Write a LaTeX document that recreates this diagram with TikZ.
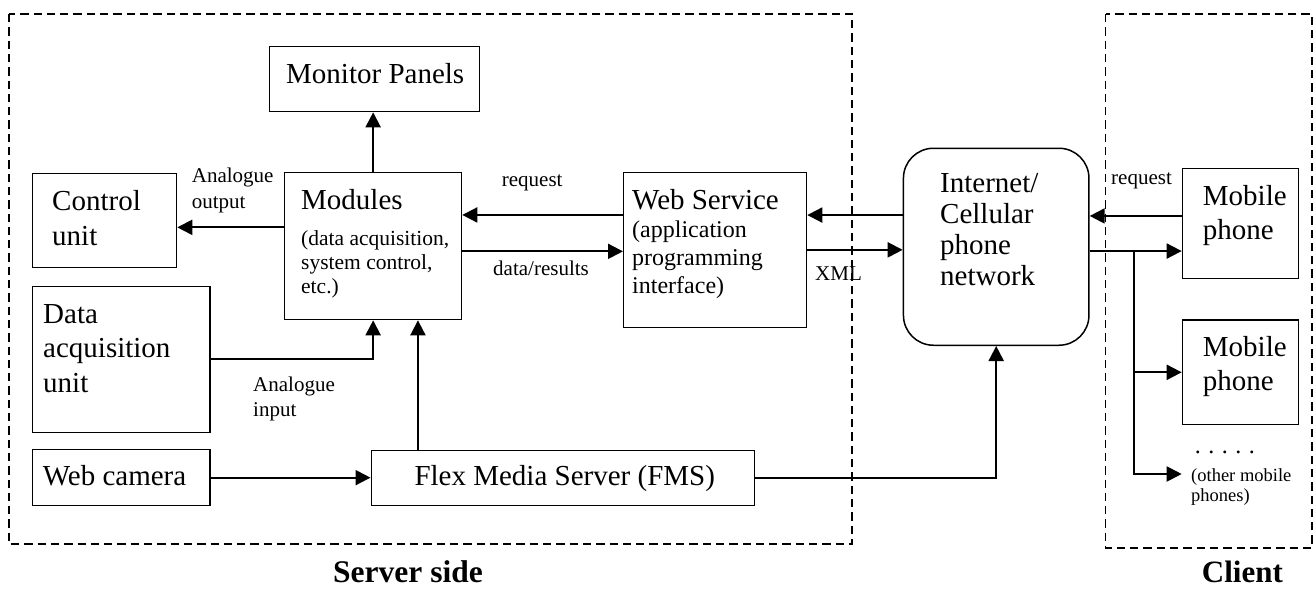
\documentclass[tikz,border=0pt]{standalone}
\usepackage{fontspec}
\setmainfont{Liberation Serif}
\usetikzlibrary{arrows.meta}
\newcommand\fsz[2]{\fontsize{#1}{#2}\selectfont}
\begin{document}
\begin{tikzpicture}[x=1pt,y=-1pt,
  box/.style={draw, line width=1.3pt, anchor=north west, inner sep=0pt},
  txt/.style={anchor=north west, inner sep=0pt, align=left},
  btxt/.style={anchor=base west, inner sep=0pt},
  big/.style={font=\fsz{29}{34}},
  small/.style={font=\fsz{21}{25}},
  arr/.style={line width=2pt, -{Triangle[length=15pt,width=15pt]}},
  region/.style={draw, line width=1.5pt, dash pattern=on 8.3pt off 5pt}
]
\useasboundingbox (0,0) rectangle (1315,589);

% dashed regions
\draw[region] (9,14) rectangle (852,544);
\draw[region] (1105.5,14) rectangle (1312,548);

% boxes
\node[box, minimum width=210pt, minimum height=65.3pt] (mon) at (269,45.7) {};
\node[box, minimum width=144pt, minimum height=94pt] (ctrl) at (32,173) {};
\node[box, minimum width=177pt, minimum height=147pt] (mod) at (284,172) {};
\node[box, minimum width=183pt, minimum height=155pt] (ws) at (623,171.7) {};
\node[box, rounded corners=30pt, line width=1.5pt, minimum width=185.5pt, minimum height=197pt] (net) at (902.7,147.5) {};
\node[box, minimum width=116.3pt, minimum height=110pt] (mp1) at (1181.7,167.7) {};
\node[box, minimum width=116.3pt, minimum height=104.7pt] (mp2) at (1181.7,319.3) {};
\node[box, minimum width=177.3pt, minimum height=146pt] (daq) at (32,285.7) {};
\node[box, minimum width=177.3pt, minimum height=56pt] (cam) at (32,449) {};
\node[box, minimum width=383pt, minimum height=55pt] (fms) at (370.5,449.5) {};

% box texts
\node[btxt, big] (mon-t) at (286,83) {Monitor Panels};
\node[txt, font=\fsz{29}{34.3}] (ctrl-t) at (52,185.7) {\rule{0pt}{25pt}Control\\unit};
\node[btxt, big] (mod-t) at (301,209.3) {Modules};
\node[txt, font=\fsz{21.5}{24}] (mod-s) at (301,227) {\rule{0pt}{18pt}(data acquisition,\\system control,\\etc.)};
\node[btxt, big] (ws-t) at (632,209) {Web Service};
\node[txt, font=\fsz{24}{27.8}] (ws-s) at (632,217.7) {\rule{0pt}{20pt}(application\\programming\\interface)};
\node[txt, font=\fsz{29}{31}] (net-t) at (940,167.3) {\rule{0pt}{25pt}Internet/\\Cellular\\phone\\network};
\node[txt, font=\fsz{29}{34.3}] (mp1-t) at (1202.7,180) {\rule{0pt}{25pt}Mobile\\phone};
\node[txt, font=\fsz{29}{34.3}] (mp2-t) at (1202.7,331) {\rule{0pt}{25pt}Mobile\\phone};
\node[txt, font=\fsz{29}{34.5}] (daq-t) at (43,298) {\rule{0pt}{25pt}Data\\acquisition\\unit};
\node[btxt, big] (cam-t) at (42.7,485) {Web camera};
\node[btxt, big] (fms-t) at (414.3,485) {Flex Media Server (FMS)};

% labels
\node[txt, font=\fsz{21}{25.6}] (l-aout) at (191.7,164.7) {\rule{0pt}{18pt}Analogue\\output};
\node[btxt, small] (l-req1) at (501.7,186) {request};
\node[btxt, small] (l-data) at (493,275.7) {data/results};
\node[btxt, small] (l-xml) at (815,280) {XML};
\node[btxt, small] (l-req2) at (1111,184.3) {request};
\node[txt, font=\fsz{21}{24.3}] (l-ain) at (253,373.7) {\rule{0pt}{18pt}Analogue\\input};
\node[btxt, font=\fsz{24}{28}] (l-dots) at (1194.7,453) {.\hspace{7.5pt}.\hspace{7.5pt}.\hspace{7.5pt}.\hspace{7.5pt}.};
\node[txt, font=\fsz{18.5}{20.7}] (l-oth) at (1191,465) {\rule{0pt}{16pt}(other mobile\\phones)};
\node[btxt, font=\fsz{31.5}{36}\bfseries] (l-server) at (333,582.5) {Server side};
\node[btxt, font=\fsz{31}{36}\bfseries] (l-client) at (1201.7,582.5) {Client};

% connector coordinates
\coordinate (a1) at ([yshift=18.8pt]mod.west);
\coordinate (a2) at ([yshift=34.9pt]ws.west);
\coordinate (a3) at ([yshift=-5.2pt]mod.east);
\coordinate (a4) at ([yshift=31.7pt]net.west);
\coordinate (a6) at ([yshift=7.4pt]mp1.west);
\coordinate (a7) at ([yshift=-4.3pt]net.east);
\coordinate (j) at ([xshift=44.1pt]a7);
\coordinate (oth) at (1181.7,474);
\coordinate (a8) at ([xshift=44.8pt]mod.south);

% connectors
\draw[arr] (mod.north) -- (mon.south -| mod.north);
\draw[arr] (a1) -- (a1 -| ctrl.east);
\draw[arr] (a2) -- (a2 -| mod.east);
\draw[arr] (a3) -- (a3 -| ws.west);
\draw[arr] (a4) -- (a4 -| ws.east);
\draw[arr] (ws.east) -- (ws.east -| net.west);
\draw[arr] (a6) -- (a6 -| net.east);
\draw[arr] (a7) -- (a7 -| mp1.west);
\draw[arr] (j) |- (mp2.west);
\draw[arr] (j) |- (oth);
\draw[arr] (daq.east) -| (mod.south);
\draw[arr] (a8 |- fms.north) -- (a8);
\draw[arr] (cam.east) -- (fms.west);
\draw[arr] (fms.east) -| (net.south);
\end{tikzpicture}
\end{document}
